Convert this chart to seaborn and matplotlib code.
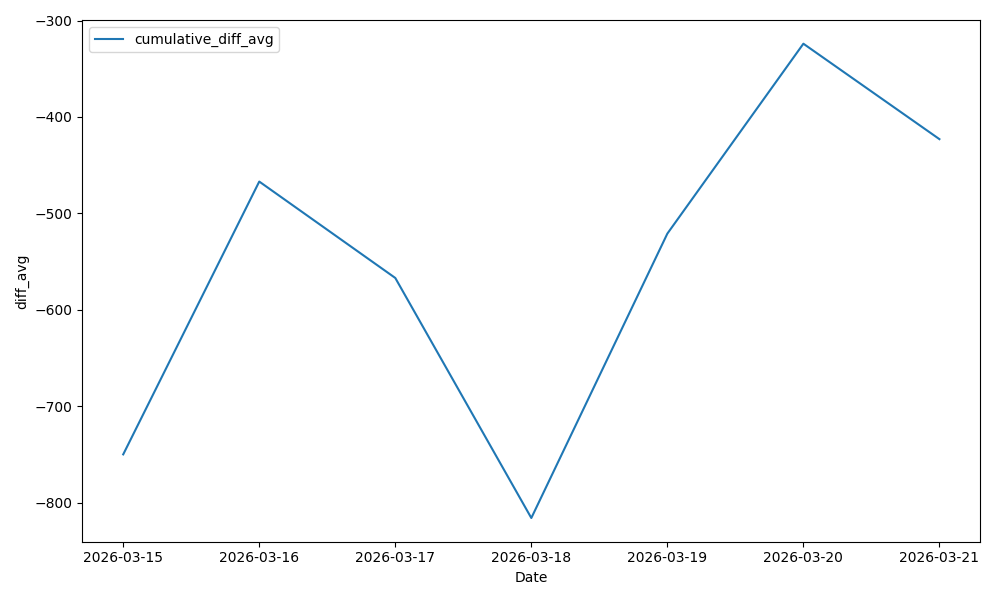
import matplotlib
matplotlib.use("Agg")
import matplotlib.pyplot as plt
import pandas as pd
import seaborn as sns

# values
dates = ["2026-03-15", "2026-03-16", "2026-03-17", "2026-03-18",
         "2026-03-19", "2026-03-20", "2026-03-21"]
diff_avg = [-750, -467, -567, -816, -521, -324, -423]

df = pd.DataFrame({"Date": pd.to_datetime(dates), "diff_avg": diff_avg})

fig, ax = plt.subplots(figsize=(10, 6), dpi=100)
sns.lineplot(data=df, x="Date", y="diff_avg", ax=ax, label="cumulative_diff_avg")
ax.set_xticks(df["Date"])
ax.set_xticklabels(dates)
ax.legend(loc="upper left")
fig.tight_layout()
fig.savefig("out.png", dpi=100)
